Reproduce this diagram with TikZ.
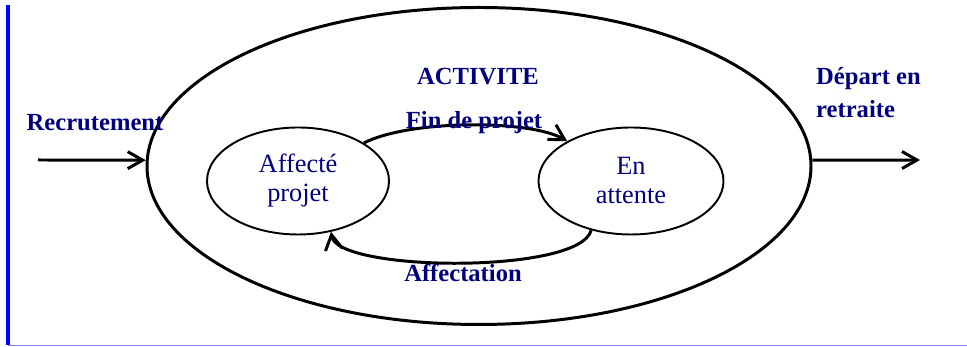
\documentclass[tikz,border=0pt]{standalone}
\usepackage{fontspec}
\setmainfont{Liberation Serif}
\usetikzlibrary{shapes.geometric,arrows.meta}
\definecolor{marine}{RGB}{0,0,128}
\begin{document}
\begin{tikzpicture}[>={Straight Barb[length=3mm,width=3.4mm]},
    etat/.style={ellipse,draw,line width=1.1pt,text=marine,align=center,inner sep=0pt,
        font=\fontsize{15}{16.5}\selectfont},
    lbl/.style={text=marine,font=\fontsize{14}{18.7}\selectfont\bfseries},
    fleche/.style={->,line width=1.7pt}]

    \useasboundingbox (0,0) rectangle (19.34,6.94);

    % cadre
    \draw[blue,line width=2pt] (.16,6.84) -- (.16,.03);
    \draw[blue!50,line width=.8pt] (.16,.03) -- (19.34,.03);

    % etats
    \node[ellipse,draw,line width=1.7pt,minimum width=13.28cm,minimum height=6.34cm] (activite) at (9.58,3.62) {};
    \node[etat,minimum width=3.64cm,minimum height=2.14cm] (affecte) at (5.96,3.32) {Affecté\\projet};
    \node[etat,minimum width=3.70cm,minimum height=2.14cm] (attente) at (12.62,3.32) {En\\attente};

    % flux
    \coordinate (entree) at (.76,3.74);
    \coordinate (sortie) at (18.40,3.74);
    \draw[fleche] (entree) -- (activite.179);
    \draw[fleche] (activite.1) -- (sortie);
    \draw[fleche] (affecte.30) .. controls (8.2,4.55) and (10.6,4.55) .. (attente.148);
    \draw[fleche] (attente.231) .. controls (11.6,1.45) and (6.75,1.5) .. (affecte.303);

    % textes
    \node[lbl] (titre) at (9.56,5.40) {ACTIVITE};
    \node[lbl] (fin) at (9.48,4.48) {Fin de projet};
    \node[lbl] (affectation) at (9.26,1.48) {Affectation};
    \node[lbl] (recrutement) at (1.90,4.48) {Recrutement};
    \node[lbl,align=left,anchor=west] (depart) at (16.2,5.08) {Départ en\\retraite};

\end{tikzpicture}
\end{document}
